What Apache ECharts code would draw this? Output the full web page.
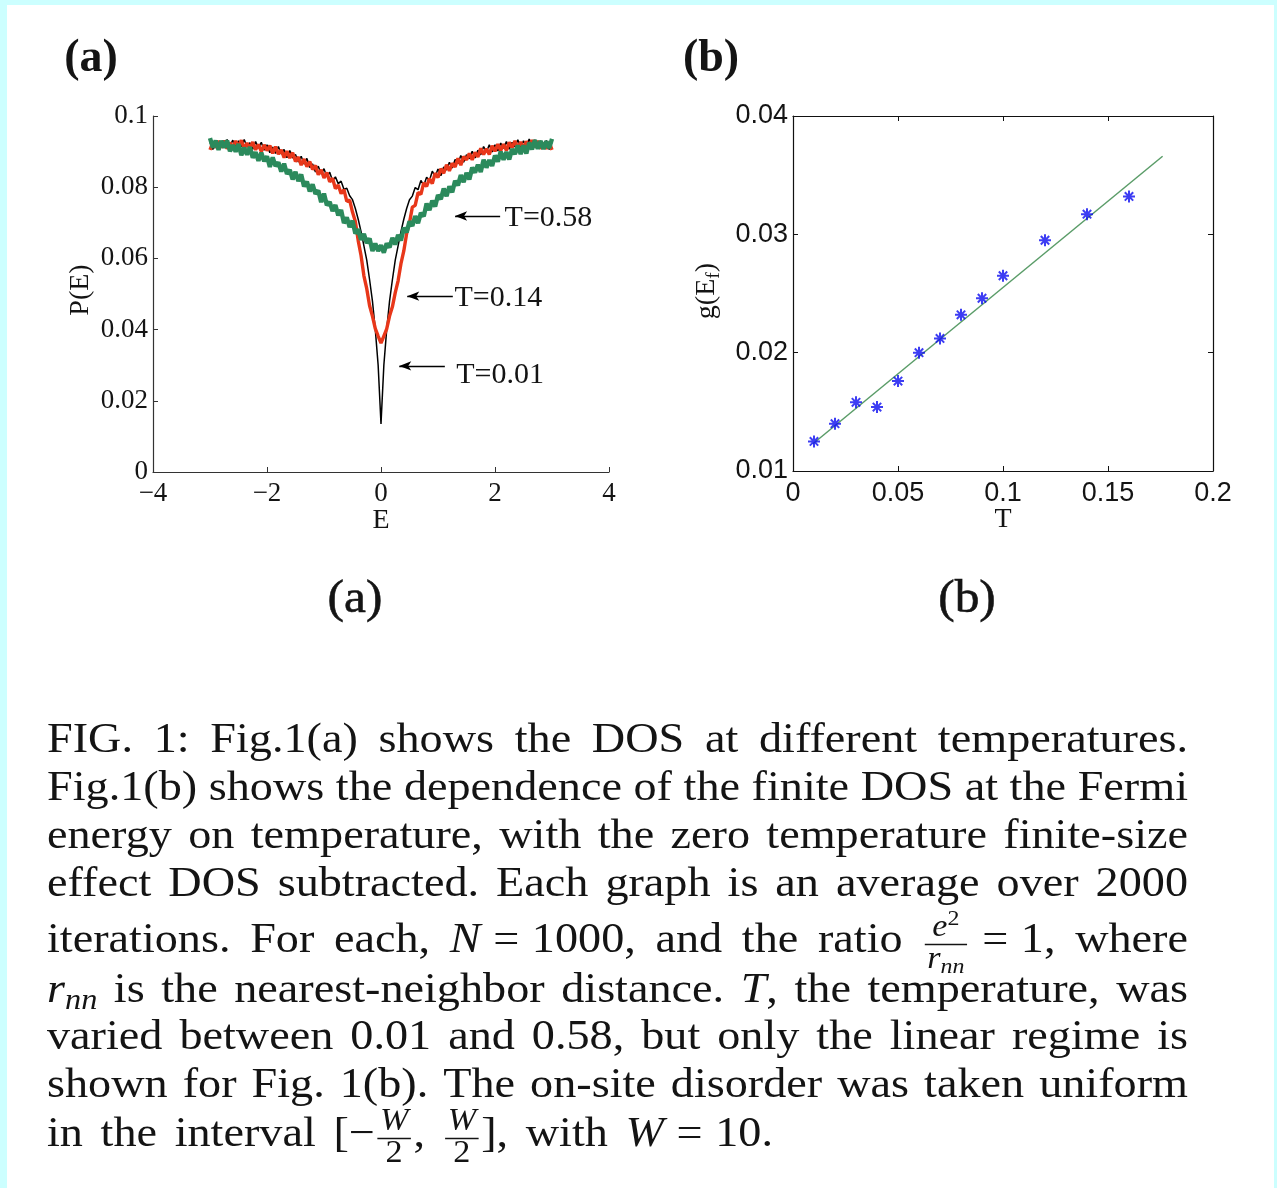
<!DOCTYPE html>
<html>
<head>
<meta charset="utf-8">
<title>DOS vs temperature</title>
<script src="https://cdn.jsdelivr.net/npm/echarts/dist/echarts.min.js"></script>
<style>
  html, body { margin: 0; padding: 0; background: #fff; }
  #chart { width: 1277px; height: 1188px; }
</style>
</head>
<body>
<div id="chart"></div>
<script>
// ---------- panel (a): P(E) for three temperatures ----------
const E_VALUES = [-3,-2.95,-2.9,-2.85,-2.8,-2.75,-2.7,-2.65,-2.6,-2.55,-2.5,-2.45,-2.4,-2.35,-2.3,-2.25,-2.2,-2.15,-2.1,-2.05,
  -2,-1.95,-1.9,-1.85,-1.8,-1.75,-1.7,-1.65,-1.6,-1.55,-1.5,-1.45,-1.4,-1.35,-1.3,-1.25,-1.2,-1.15,-1.1,-1.05,
  -1,-0.95,-0.9,-0.85,-0.8,-0.75,-0.7,-0.65,-0.6,-0.55,-0.5,-0.45,-0.4,-0.35,-0.3,-0.25,-0.2,-0.15,-0.1,-0.05,
  0,
  0.05,0.1,0.15,0.2,0.25,0.3,0.35,0.4,0.45,0.5,0.55,0.6,0.65,0.7,0.75,0.8,0.85,0.9,0.95,1,
  1.05,1.1,1.15,1.2,1.25,1.3,1.35,1.4,1.45,1.5,1.55,1.6,1.65,1.7,1.75,1.8,1.85,1.9,1.95,2,
  2.05,2.1,2.15,2.2,2.25,2.3,2.35,2.4,2.45,2.5,2.55,2.6,2.65,2.7,2.75,2.8,2.85,2.9,2.95,3];

// P(E) in units of 1e-3
const P_T001 = [92.6,90.6,93.0,91.2,92.8,91.1,93.4,91.6,93.2,91.2,
  93.0,91.3,93.4,91.3,92.5,90.7,92.8,91.0,92.6,90.4,
  91.9,89.7,91.3,89.5,91.4,89.3,90.6,88.3,90.3,88.2,
  89.2,87.1,88.7,86.5,88.1,85.5,86.5,84.3,85.9,83.7,
  85.2,82.9,84.2,81.8,82.9,81.0,81.7,79.4,79.7,77.6,
  76.5,74.0,71.0,67.5,63.5,59.5,54.0,48.0,40.0,30.0,
  13.5,
  30.0,40.0,48.0,54.0,59.5,63.5,67.5,71.0,74.0,76.5,
  77.5,79.9,79.3,81.9,80.5,82.8,81.9,84.5,83.0,85.1,
  83.2,85.7,84.8,87.0,85.4,87.8,86.6,88.9,87.0,89.1,
  88.0,90.1,88.2,90.4,89.1,91.4,89.9,91.9,89.9,91.9,
  90.2,92.4,90.9,92.8,90.7,92.6,91.3,93.3,91.3,93.0,
  91.4,93.5,91.7,93.3,91.2,93.0,91.4,93.1,90.6,92.7];

const P_T014 = [90.5,92.5,91.1,93.0,91.1,93.1,90.8,92.5,91.1,93.0,
  91.3,93.2,90.8,92.4,90.9,92.7,90.5,92.0,90.0,91.9,
  90.3,91.7,89.5,91.4,89.3,90.5,88.3,90.1,88.2,89.7,
  87.2,88.5,86.2,87.9,85.8,87.2,85.0,86.1,83.5,84.9,
  82.6,84.1,81.5,82.5,79.6,80.6,78.2,79.3,76.0,76.4,
  73.0,70.4,65.0,60.8,55.1,51.5,46.7,43.8,40.3,38.2,
  36.2,
  38.2,40.2,43.8,46.4,50.4,53.7,58.5,62.1,67.0,70.0,
  74.4,74.9,78.5,78.0,81.2,80.2,82.4,81.0,83.9,82.7,
  85.2,83.9,86.3,84.6,86.7,85.7,88.1,86.2,88.6,87.7,
  89.5,87.7,89.8,88.5,90.9,89.2,90.8,89.2,91.6,90.1,
  92.1,90.3,92.1,90.3,92.6,91.1,93.0,90.9,92.7,90.9,
  92.9,91.2,93.2,91.3,93.0,90.8,92.4,90.8,92.7,90.5];

const P_T058 = [93.8,91.1,93.1,90.5,93.0,91.1,93.1,90.1,91.8,90.0,
  92.1,89.0,91.1,89.1,91.3,88.3,89.8,87.4,89.7,87.3,
  88.7,85.7,88.4,85.9,87.0,84.4,86.6,83.7,84.9,82.2,
  84.3,81.7,83.6,80.2,81.6,78.8,80.8,78.1,79.1,75.8,
  78.2,74.9,75.9,73.3,75.0,72.1,73.6,69.9,71.5,68.8,
  70.6,67.0,68.2,65.2,66.9,64.3,65.6,62.1,64.2,62.1,
  63.7,
  61.6,64.2,63.1,65.8,63.9,66.6,65.0,68.6,67.3,70.4,
  69.1,71.9,69.9,72.8,71.8,75.4,73.6,76.2,74.6,77.8,
  76.6,79.6,77.5,80.2,78.6,81.8,80.5,83.4,81.4,84.0,
  82.2,85.5,84.1,86.3,84.3,87.7,85.5,87.6,86.0,88.9,
  87.2,90.0,87.7,89.9,87.8,90.7,89.3,91.7,89.3,91.7,
  89.5,92.5,90.6,93.2,90.8,93.0,90.7,92.9,91.0,93.6];

const A_X_TICKS = [-4, -2, 0, 2, 4];
const A_Y_TICKS = [0, 0.02, 0.04, 0.06, 0.08, 0.1];

// curve annotations: arrow tail/head along E, arrow height, label anchor
const CURVE_LABELS = ['T=0.58', 'T=0.14', 'T=0.01'];
const ARROW_TAIL_E = [2.09, 1.26, 1.12];
const ARROW_HEAD_E = [1.30, 0.46, 0.32];
const ARROW_P = [0.0719, 0.0494, 0.0298];
const LABEL_E = [2.16, 1.28, 1.31];
const LABEL_P = [0.0713, 0.0489, 0.0272];

// ---------- panel (b): g(E_f) vs T ----------
const T_VALUES = [0.01, 0.02, 0.03, 0.04, 0.05, 0.06, 0.07, 0.08, 0.09, 0.10, 0.12, 0.14, 0.16];
const G_EF = [0.0125, 0.0140, 0.0158, 0.0154, 0.0176, 0.0200, 0.0212, 0.0232, 0.0246, 0.0265, 0.0295, 0.0317, 0.0332];
const FIT_T = [0.0095, 0.176];
const FIT_G = [0.0123, 0.0366];
const B_X_TICKS = [0, 0.05, 0.1, 0.15, 0.2];
const B_Y_TICKS = [0.01, 0.02, 0.03, 0.04];

// ---------- helpers ----------
const SERIF = '"Liberation Serif", "Times New Roman", serif';
const SANS = '"Liberation Sans", Arial, sans-serif';
const INK = '#141414';

const toPoints = (xs, ys, scale) => xs.map((x, i) => [x, ys[i] * scale]);
const range = ticks => ({ min: ticks[0], max: ticks[ticks.length - 1], interval: ticks[1] - ticks[0] });
const minusFmt = v => (v < 0 ? '\u2212' + (-v) : String(v));

const measureCtx = document.createElement('canvas').getContext('2d');
function fontOf(size, italic, family) { return (italic ? 'italic ' : '') + size + 'px ' + (family || SERIF); }
function textWidth(t, size, italic) { measureCtx.font = fontOf(size, italic); return measureCtx.measureText(t).width; }

// text element positioned by its baseline (canvas "middle" sits ~0.3375em above it)
function baselineText(t, x, base, size, italic, extra) {
  return Object.assign({
    type: 'text', x: x, y: base - size * 0.3375, silent: true,
    style: { text: t, font: fontOf(size, italic), fill: INK, align: 'left', verticalAlign: 'middle' }
  }, extra || {});
}

// caption glyphs are drawn slightly widened
const CAP_SX = 1.1;

// lays out a list of pieces (plain, italic, sub/superscript, fraction, fixed space); returns total width
function layoutPieces(pieces, x0, base, size, out) {
  let x = x0;
  for (const raw of pieces) {
    const p = typeof raw === 'string' ? { t: raw } : raw;
    if (p.sp) { x += p.sp * size; continue; }
    if (p.frac) {
      const s2 = size * 0.74;
      const wn = layoutPieces(p.frac[0], 0, 0, s2, null);
      const wd = layoutPieces(p.frac[1], 0, 0, s2, null);
      const pad = size * 0.12;
      const w = Math.max(wn, wd) + 2 * pad;
      if (out) {
        layoutPieces(p.frac[0], x + (w - wn) / 2, base - size * 0.40, s2, out);
        layoutPieces(p.frac[1], x + (w - wd) / 2, base + size * 0.36, s2, out);
        const yb = base - size * 0.25;
        out.push({ type: 'line', silent: true,
          shape: { x1: x + pad * 0.5, y1: yb, x2: x + w - pad * 0.5, y2: yb },
          style: { stroke: INK, lineWidth: 1.5 } });
      }
      x += w;
      continue;
    }
    let s = size, dy = 0;
    if (p.sub) { s = size * 0.7; dy = size * 0.15; }
    if (p.sup) { s = size * 0.7; dy = -size * 0.36; }
    const w = textWidth(p.t, s, p.it) * CAP_SX;
    if (out) out.push(baselineText(p.t, x, base + dy, s, p.it, { scaleX: CAP_SX }));
    x += w;
  }
  return x - x0;
}

const IT = t => ({ t: t, it: true });
const SUB = t => ({ t: t, it: true, sub: true });
const SUP = t => ({ t: t, sup: true });
const FRAC = (num, den) => ({ frac: [num, den] });
const REL = { sp: 0.3 };   // space around a relation sign

// ---------- caption ----------
const CAP_SIZE = 42, CAP_LEFT = 47, CAP_RIGHT = 1188;
const words = s => s.split(' ');
const CAPTION_LINES = [
  { base: 755, justify: true, words: words('FIG. 1: Fig.1(a) shows the DOS at different temperatures.') },
  { base: 803, justify: true, words: words('Fig.1(b) shows the dependence of the finite DOS at the Fermi') },
  { base: 851, justify: true, words: words('energy on temperature, with the zero temperature finite-size') },
  { base: 899, justify: true, words: words('effect DOS subtracted. Each graph is an average over 2000') },
  { base: 955, justify: true, words: ['iterations.', 'For', 'each,', [IT('N'), REL, '=', REL, '1000,'], 'and', 'the', 'ratio',
      [FRAC([IT('e'), SUP('2')], [IT('r'), SUB('nn')]), REL, '=', REL, '1,'], 'where'] },
  { base: 1005, justify: true, words: [[IT('r'), SUB('nn')], 'is', 'the', 'nearest-neighbor', 'distance.',
      [IT('T'), ','], 'the', 'temperature,', 'was'] },
  { base: 1052, justify: true, words: words('varied between 0.01 and 0.58, but only the linear regime is') },
  { base: 1100, justify: true, words: words('shown for Fig. 1(b). The on-site disorder was taken uniform') },
  { base: 1149, justify: false, words: ['in', 'the', 'interval', ['[\u2212', FRAC([IT('W')], ['2']), ','],
      [FRAC([IT('W')], ['2']), '],'], 'with', [IT('W'), REL, '=', REL, '10.']] }
];

function layoutCaption(lines, out) {
  for (const line of lines) {
    const ws = line.words.map(w => (Array.isArray(w) ? w : [w]));
    const widths = ws.map(w => layoutPieces(w, 0, 0, CAP_SIZE, null));
    const total = widths.reduce((a, b) => a + b, 0);
    const gap = line.justify ? (CAP_RIGHT - CAP_LEFT - total) / (ws.length - 1) : CAP_SIZE * 0.42;
    let x = CAP_LEFT;
    ws.forEach((w, i) => { layoutPieces(w, x, line.base, CAP_SIZE, out); x += widths[i] + gap; });
  }
}

// ---------- graphic layer: frame strip, panel letters, axis titles, caption ----------
const graphics = [
  { type: 'rect', silent: true, shape: { x: 0, y: 0, width: 1277, height: 5 }, style: { fill: '#ccffff' } },
  { type: 'rect', silent: true, shape: { x: 0, y: 0, width: 7, height: 1188 }, style: { fill: '#ccffff' } },
  { type: 'rect', silent: true, shape: { x: 1274, y: 0, width: 3, height: 1188 }, style: { fill: '#ccffff' } },
  { type: 'text', silent: true, x: 91, y: 59, style: { text: '(a)', font: 'bold 46px ' + SERIF, fill: INK, align: 'center', verticalAlign: 'middle' } },
  { type: 'text', silent: true, x: 711, y: 59, style: { text: '(b)', font: 'bold 46px ' + SERIF, fill: INK, align: 'center', verticalAlign: 'middle' } },
  { type: 'text', silent: true, x: 355, y: 600, scaleX: 1.05, style: { text: '(a)', font: '47px ' + SERIF, fill: INK, align: 'center', verticalAlign: 'middle', stroke: INK, lineWidth: 0.6 } },
  { type: 'text', silent: true, x: 967, y: 600, scaleX: 1.05, style: { text: '(b)', font: '47px ' + SERIF, fill: INK, align: 'center', verticalAlign: 'middle', stroke: INK, lineWidth: 0.6 } },
  { type: 'text', silent: true, x: 381, y: 521, style: { text: 'E', font: '28px ' + SERIF, fill: INK, align: 'center', verticalAlign: 'middle' } },
  { type: 'text', silent: true, x: 1003, y: 520, style: { text: 'T', font: '28px ' + SERIF, fill: INK, align: 'center', verticalAlign: 'middle' } },
  { type: 'text', silent: true, x: 81, y: 290, rotation: Math.PI / 2, style: { text: 'P(E)', font: '28px ' + SERIF, fill: INK, align: 'center', verticalAlign: 'middle' } }
];

// rotated g(E_f) title, reading upwards, baseline on its right side
(function () {
  const s = 28, ss = 19.6, baseX = 716;
  const w1 = textWidth('g(E', s), w2 = textWidth('f', ss), w3 = textWidth(')', s);
  const y0 = 291 + (w1 + w2 + w3) / 2;
  const rot = { rotation: Math.PI / 2 };
  graphics.push(Object.assign(baselineText('g(E', 0, 0, s), rot, { x: baseX - s * 0.3375, y: y0 }));
  graphics.push(Object.assign(baselineText('f', 0, 0, ss), rot, { x: baseX + s * 0.15 - ss * 0.3375, y: y0 - w1 }));
  graphics.push(Object.assign(baselineText(')', 0, 0, s), rot, { x: baseX - s * 0.3375, y: y0 - w1 - w2 }));
})();

layoutCaption(CAPTION_LINES, graphics);

// ---------- chart ----------
const axisA = { lineStyle: { color: '#333', width: 1.2 } };
const axisB = { lineStyle: { color: '#111', width: 1.2 } };

const arrowLines = CURVE_LABELS.map((_, i) => [
  { coord: [ARROW_TAIL_E[i], ARROW_P[i]] },
  { coord: [ARROW_HEAD_E[i], ARROW_P[i]] }
]);
const labelPoints = CURVE_LABELS.map((t, i) => ({ name: t, coord: [LABEL_E[i], LABEL_P[i]] }));

const asterisk = 'path://M6,0L6,12M0,6L12,6M1.8,1.8L10.2,10.2M1.8,10.2L10.2,1.8';

const option = {
  animation: false,
  backgroundColor: '#ffffff',
  grid: [
    { left: 153, top: 116, width: 456, height: 356 },
    { left: 793, top: 116, width: 420, height: 355 }
  ],
  xAxis: [
    Object.assign({ gridIndex: 0, type: 'value' }, range(A_X_TICKS), {
      axisLine: Object.assign({ onZero: false }, axisA),
      axisTick: { inside: true, length: 5, lineStyle: { color: '#333' } },
      splitLine: { show: false },
      axisLabel: { fontFamily: SERIF, fontSize: 27, color: INK, margin: 8, formatter: minusFmt }
    }),
    Object.assign({ gridIndex: 1, type: 'value' }, range(B_X_TICKS), {
      axisLine: Object.assign({ onZero: false }, axisB),
      axisTick: { inside: true, length: 5, lineStyle: { color: '#111' } },
      splitLine: { show: false },
      axisLabel: { fontFamily: SANS, fontSize: 27, color: INK, margin: 9 }
    }),
    Object.assign({ gridIndex: 1, type: 'value', position: 'top' }, range(B_X_TICKS), {
      axisLine: Object.assign({ onZero: false }, axisB),
      axisTick: { inside: true, length: 5, lineStyle: { color: '#111' } },
      splitLine: { show: false },
      axisLabel: { show: false }
    })
  ],
  yAxis: [
    Object.assign({ gridIndex: 0, type: 'value' }, range(A_Y_TICKS), {
      axisLine: Object.assign({ onZero: false }, axisA),
      axisTick: { inside: true, length: 5, lineStyle: { color: '#333' } },
      splitLine: { show: false },
      axisLabel: { fontFamily: SERIF, fontSize: 27, color: INK, margin: 5 }
    }),
    Object.assign({ gridIndex: 1, type: 'value' }, range(B_Y_TICKS), {
      axisLine: Object.assign({ onZero: false }, axisB),
      axisTick: { inside: true, length: 5, lineStyle: { color: '#111' } },
      splitLine: { show: false },
      axisLabel: { fontFamily: SANS, fontSize: 27, color: INK, margin: 5 }
    }),
    Object.assign({ gridIndex: 1, type: 'value', position: 'right' }, range(B_Y_TICKS), {
      axisLine: Object.assign({ onZero: false }, axisB),
      axisTick: { inside: true, length: 5, lineStyle: { color: '#111' } },
      splitLine: { show: false },
      axisLabel: { show: false }
    })
  ],
  series: [
    {
      name: 'T=0.01', type: 'line', xAxisIndex: 0, yAxisIndex: 0, silent: true,
      data: toPoints(E_VALUES, P_T001, 1e-3), showSymbol: false, symbol: 'none',
      lineStyle: { color: '#000000', width: 1.5, join: 'bevel' }, z: 2
    },
    {
      name: 'T=0.14', type: 'line', xAxisIndex: 0, yAxisIndex: 0, silent: true,
      data: toPoints(E_VALUES, P_T014, 1e-3), showSymbol: false, symbol: 'none',
      lineStyle: { color: '#e8371a', width: 3.4, join: 'bevel' }, z: 3
    },
    {
      name: 'T=0.58', type: 'line', xAxisIndex: 0, yAxisIndex: 0, silent: true,
      data: toPoints(E_VALUES, P_T058, 1e-3), showSymbol: false, symbol: 'none',
      lineStyle: { color: '#2b8a5c', width: 4.4, join: 'bevel' }, z: 4,
      markLine: {
        silent: true, animation: false,
        symbol: ['none', 'arrow'], symbolSize: [7, 12],
        lineStyle: { color: '#000', width: 1.3, type: 'solid' },
        label: { show: false },
        data: arrowLines
      },
      markPoint: {
        silent: true, animation: false,
        symbol: 'circle', symbolSize: 1, itemStyle: { color: 'rgba(0,0,0,0)' },
        label: { show: true, position: 'right', distance: 0, formatter: '{b}',
                 fontFamily: SERIF, fontSize: 30, color: INK },
        data: labelPoints
      }
    },
    {
      name: 'fit', type: 'line', xAxisIndex: 1, yAxisIndex: 1, silent: true,
      data: toPoints(FIT_T, FIT_G, 1), showSymbol: false, symbol: 'none',
      lineStyle: { color: '#5a9c68', width: 1.5 }, z: 2
    },
    {
      name: 'g(Ef)', type: 'scatter', xAxisIndex: 1, yAxisIndex: 1, silent: true,
      data: toPoints(T_VALUES, G_EF, 1), symbol: asterisk, symbolSize: 12,
      itemStyle: { color: 'rgba(0,0,0,0)', borderColor: '#0c0cf0', borderWidth: 2 }, z: 3
    }
  ],
  graphic: { elements: graphics }
};

const chart = echarts.init(document.getElementById('chart'), null, { renderer: 'canvas' });
chart.setOption(option);
</script>
</body>
</html>
